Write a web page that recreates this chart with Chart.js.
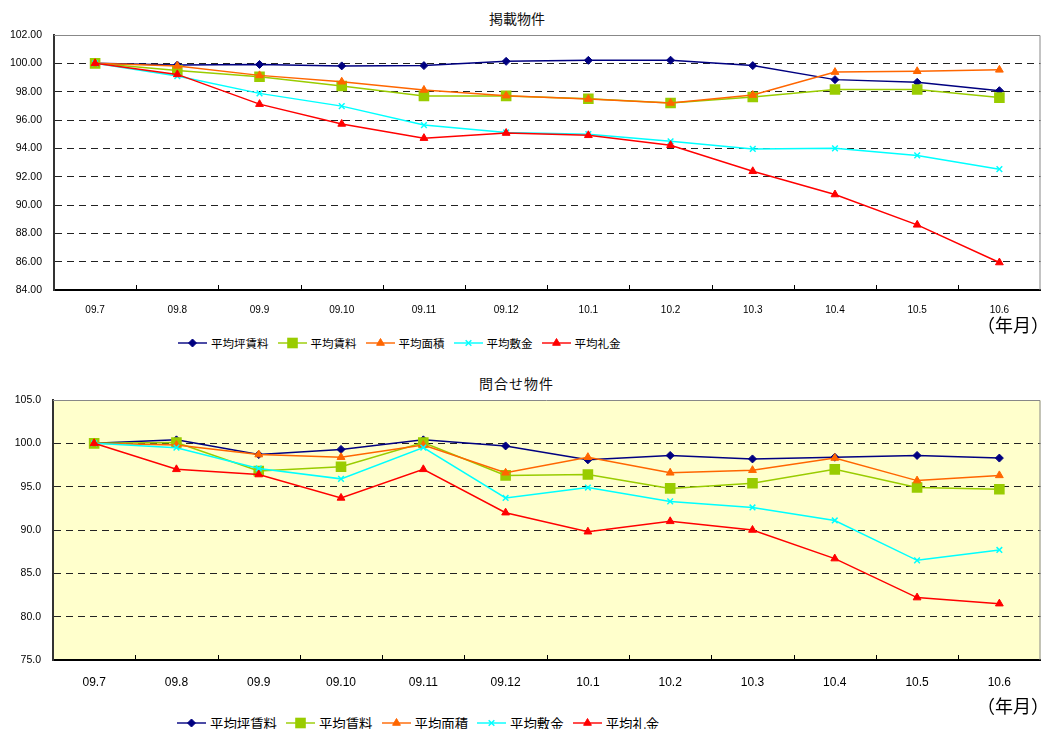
<!DOCTYPE html>
<html lang="ja">
<head>
<meta charset="utf-8">
<title>掲載物件・問合せ物件</title>
<script src="https://cdn.jsdelivr.net/npm/chart.js"></script>
<style>
  body { margin: 0; background: #fff; }
  #page { position: relative; width: 1048px; height: 729px; overflow: hidden; }
  canvas.chart { position: absolute; left: 0; }
  .title { position: absolute; font-family: "Noto Sans CJK JP", sans-serif; font-size: 14px; line-height: 16px; color: #111; white-space: nowrap; }
  .unit { position: absolute; font-family: "Noto Sans CJK JP", sans-serif; font-size: 18px; line-height: 20px; color: #000; white-space: nowrap; }
  .legend { position: absolute; display: flex; align-items: center; font-family: "Noto Sans CJK JP", sans-serif; color: #000; white-space: nowrap; }
  .legend .item { display: flex; align-items: center; margin-right: 9px; }
  .legend canvas { margin-right: 4px; }
</style>
</head>
<body>
<div id="page">
  <div class="title" style="left:489px; top:10px;">掲載物件</div>
  <canvas id="listedChart" class="chart" width="1048" height="320" style="top:0;"></canvas>
  <div class="unit" style="left:977px; top:314px;">（年月）</div>
  <div id="listedLegend" class="legend" style="left:178px; top:335px; font-size:11.5px;"></div>

  <div class="title" style="left:479px; top:375px; letter-spacing:1px;">問合せ物件</div>
  <canvas id="inquiryChart" class="chart" width="1048" height="330" style="top:365px;"></canvas>
  <div class="unit" style="left:977px; top:695px;">（年月）</div>
  <div id="inquiryLegend" class="legend" style="left:177px; top:713px; font-size:13.4px;"></div>
</div>

<script>
// months on the x axis
const months = ['09.7', '09.8', '09.9', '09.10', '09.11', '09.12', '10.1', '10.2', '10.3', '10.4', '10.5', '10.6'];
const seriesNames = ['平均坪賃料', '平均賃料', '平均面積', '平均敷金', '平均礼金'];

// 掲載物件 (index, 09.7 = 100)
const listedTsubo     = [100.00, 99.88, 99.92, 99.82, 99.84, 100.14, 100.21, 100.22, 99.84, 98.85, 98.66, 98.07];
const listedRent      = [100.00, 99.50, 99.05, 98.40, 97.70, 97.70, 97.50, 97.20, 97.62, 98.15, 98.15, 97.58];
const listedArea      = [100.00, 99.82, 99.15, 98.70, 98.12, 97.72, 97.48, 97.20, 97.76, 99.38, 99.44, 99.54];
const listedDeposit   = [100.00, 99.10, 97.88, 96.98, 95.64, 95.12, 95.00, 94.50, 93.96, 94.00, 93.50, 92.53];
const listedKeyMoney  = [100.00, 99.22, 97.12, 95.72, 94.72, 95.08, 94.92, 94.22, 92.38, 90.74, 88.60, 85.94];

// 問合せ物件 (index, 09.7 = 100)
const inquiryTsubo    = [100.0, 100.4, 98.7, 99.3, 100.4, 99.7, 98.1, 98.6, 98.2, 98.4, 98.6, 98.3];
const inquiryRent     = [100.0, 100.1, 96.8, 97.3, 100.1, 96.3, 96.4, 94.8, 95.4, 97.0, 94.9, 94.7];
const inquiryArea     = [100.0, 99.8, 98.7, 98.4, 99.8, 96.6, 98.4, 96.6, 96.9, 98.3, 95.7, 96.3];
const inquiryDeposit  = [100.0, 99.5, 97.1, 95.9, 99.5, 93.7, 94.9, 93.3, 92.6, 91.1, 86.5, 87.7];
const inquiryKeyMoney = [100.0, 97.0, 96.4, 93.7, 97.0, 92.0, 89.8, 91.0, 90.0, 86.7, 82.2, 81.5];

// series styles
const lineColors = ['#000080', '#99CC00', '#FF6600', '#00FFFF', '#FF0000'];
const markers = [
    { pointStyle: 'rectRot', radius: 4, borderWidth: 1 },
    { pointStyle: 'rect', radius: 7.5, borderWidth: 0 },
    { pointStyle: 'triangle', radius: 4.5, borderWidth: 1 },
    { pointStyle: 'crossRot', radius: 4, borderWidth: 1.5 },
    { pointStyle: 'triangle', radius: 4.5, borderWidth: 1 }
];
const numFont = '"Liberation Sans", Arial, sans-serif';

function buildDatasets(seriesValues) {
    return seriesValues.map((values, i) => ({
        label: seriesNames[i],
        data: values,
        borderColor: lineColors[i],
        backgroundColor: lineColors[i],
        borderWidth: 1.5,
        pointStyle: markers[i].pointStyle,
        pointRadius: markers[i].radius,
        pointBorderWidth: markers[i].borderWidth,
        pointBackgroundColor: lineColors[i],
        pointBorderColor: lineColors[i],
        tension: 0,
        order: seriesValues.length - i // later series drawn on top, like the original
    }));
}

// plot background, grey top/right frame and short inward ticks between months
const framePlugin = {
    id: 'frame',
    beforeDraw(chart, args, opts) {
        if (!opts.fill) return;
        const a = chart.chartArea, ctx = chart.ctx;
        ctx.save();
        ctx.fillStyle = opts.fill;
        ctx.fillRect(a.left, a.top, a.right - a.left, a.bottom - a.top);
        ctx.restore();
    },
    beforeDatasetsDraw(chart) {
        const a = chart.chartArea, ctx = chart.ctx, x = chart.scales.x;
        ctx.save();
        ctx.strokeStyle = '#888';
        ctx.lineWidth = 1;
        ctx.beginPath();
        ctx.moveTo(a.left, a.top + 0.5);
        ctx.lineTo(a.right - 0.5, a.top + 0.5);
        ctx.lineTo(a.right - 0.5, a.bottom);
        ctx.stroke();
        ctx.strokeStyle = '#000';
        ctx.beginPath();
        for (let i = 1; i < months.length; i++) {
            const px = Math.round((x.getPixelForTick(i - 1) + x.getPixelForTick(i)) / 2) + 0.5;
            ctx.moveTo(px, a.bottom);
            ctx.lineTo(px, a.bottom - 5);
        }
        ctx.stroke();
        ctx.restore();
    }
};

function makeChart(id, seriesValues, cfg) {
    return new Chart(document.getElementById(id), {
        type: 'line',
        data: { labels: months, datasets: buildDatasets(seriesValues) },
        options: {
            responsive: false,
            animation: false,
            events: [],
            layout: { padding: { top: cfg.padTop, right: cfg.padRight, left: 0, bottom: 0 } },
            scales: {
                x: {
                    offset: true,
                    grid: { display: false },
                    border: { display: true, color: '#000', width: 2 },
                    ticks: { color: '#000', font: { family: numFont, size: cfg.xFont }, padding: cfg.xPad, maxRotation: 0, autoSkip: false },
                    afterFit: s => { s.height = cfg.xHeight; }
                },
                y: {
                    min: cfg.min,
                    max: cfg.max,
                    ticks: {
                        stepSize: cfg.step,
                        color: '#000',
                        font: { family: numFont, size: 10.5 },
                        padding: 12,
                        callback: v => v.toFixed(cfg.decimals)
                    },
                    grid: {
                        drawTicks: false,
                        lineWidth: 1,
                        color: c => (c.tick && (c.tick.value === cfg.min || c.tick.value === cfg.max)) ? 'rgba(0,0,0,0)' : '#222'
                    },
                    border: { color: '#333', width: 2, dash: [7, 5] },
                    afterFit: s => { s.width = cfg.yWidth; }
                }
            },
            plugins: {
                legend: { display: false },
                tooltip: { enabled: false },
                frame: { fill: cfg.fill }
            }
        },
        plugins: [framePlugin]
    });
}

function buildLegend(id, iconW) {
    const box = document.getElementById(id);
    seriesNames.forEach((name, i) => {
        const item = document.createElement('span');
        item.className = 'item';
        const c = document.createElement('canvas');
        c.width = iconW;
        c.height = 14;
        const g = c.getContext('2d');
        g.globalAlpha = 0.7;
        g.strokeStyle = lineColors[i];
        g.lineWidth = 2;
        g.beginPath();
        g.moveTo(0, 7);
        g.lineTo(iconW, 7);
        g.stroke();
        g.globalAlpha = 1;
        g.fillStyle = lineColors[i];
        g.lineWidth = markers[i].borderWidth;
        Chart.helpers.drawPoint(g, { pointStyle: markers[i].pointStyle, radius: markers[i].radius, borderWidth: markers[i].borderWidth, rotation: 0 }, iconW / 2, 7);
        const label = document.createElement('span');
        label.textContent = name;
        item.appendChild(c);
        item.appendChild(label);
        box.appendChild(item);
    });
}

makeChart('listedChart',
    [listedTsubo, listedRent, listedArea, listedDeposit, listedKeyMoney],
    { padTop: 35, padRight: 7, xHeight: 30, xFont: 10, xPad: 6, yWidth: 54, min: 84, max: 102, step: 2, decimals: 2, fill: null });

makeChart('inquiryChart',
    [inquiryTsubo, inquiryRent, inquiryArea, inquiryDeposit, inquiryKeyMoney],
    { padTop: 35, padRight: 3, xHeight: 35, xFont: 12, xPad: 7, yWidth: 53, min: 75, max: 105, step: 5, decimals: 1, fill: '#FFFFCC' });

buildLegend('listedLegend', 29);
buildLegend('inquiryLegend', 29);
</script>
</body>
</html>
